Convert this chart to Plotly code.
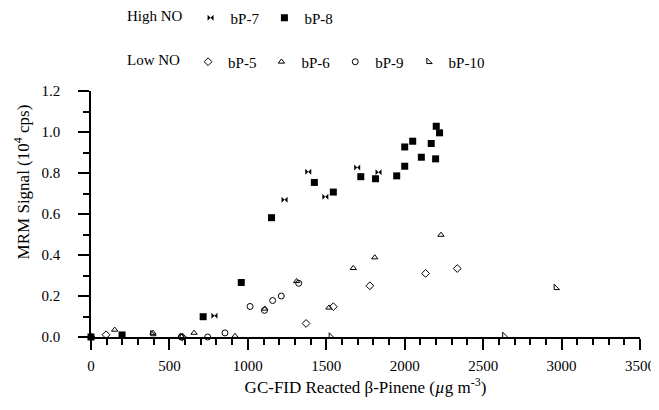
import plotly.graph_objects as go

# ---- data ----
bp7_x = [0, 787, 1234, 1385, 1494, 1697, 1833]
bp7_y = [0, 0.104, 0.670, 0.806, 0.684, 0.827, 0.804]

bp8_x = [0, 198, 715, 958, 1151, 1424, 1545, 1720, 1814, 1949, 2000, 2000, 2051, 2106, 2169, 2197, 2201, 2222]
bp8_y = [0, 0.010, 0.099, 0.266, 0.582, 0.754, 0.707, 0.782, 0.772, 0.786, 0.833, 0.927, 0.955, 0.877, 0.944, 0.869, 1.028, 0.996]

bp5_x = [0, 96, 582, 1371, 1545, 1778, 2133, 2335]
bp5_y = [0, 0.011, 0.0, 0.066, 0.148, 0.250, 0.310, 0.334]

bp6_x = [0, 151, 395, 657, 918, 1108, 1311, 1517, 1672, 1809, 2231]
bp6_y = [0, 0.035, 0.020, 0.020, 0.005, 0.138, 0.272, 0.143, 0.336, 0.388, 0.498]

bp9_x = [0, 575, 744, 854, 1014, 1106, 1158, 1213, 1324]
bp9_y = [0, 0.0, 0.0, 0.020, 0.149, 0.130, 0.178, 0.200, 0.262]

bp10_x = [392, 580, 1530, 2636, 2964]
bp10_y = [0.015, 0.0, 0.003, 0.006, 0.240]

FONT = "Liberation Serif"

fig = go.Figure()

def add(x, y, name, symbol, size, legend, filled=False):
    fig.add_trace(go.Scatter(
        x=x, y=y, mode="markers", name=name, legend=legend, cliponaxis=False,
        marker=dict(symbol=symbol, size=size, color="black",
                    line=dict(color="black", width=0 if filled else 1)),
    ))

add(bp7_x, bp7_y, "bP-7", "bowtie", 6, "legend", filled=True)
add(bp8_x, bp8_y, "bP-8", "square", 7, "legend", filled=True)
add(bp5_x, bp5_y, "bP-5", "diamond-open", 6, "legend2")
add(bp6_x, bp6_y, "bP-6", "triangle-up-open", 5.5, "legend2")
add(bp9_x, bp9_y, "bP-9", "circle-open", 6, "legend2")
add(bp10_x, bp10_y, "bP-10", "triangle-sw-open", 6, "legend2")

axis_common = dict(
    showgrid=False, zeroline=False, showline=True, linecolor="black", linewidth=1.5,
    ticks="outside", ticklen=11, tickwidth=1.5, tickcolor="black",
    tickfont=dict(family=FONT, size=15, color="black"),
    automargin=False,
)

fig.update_xaxes(
    range=[0, 3500], dtick=500, tick0=0,
    minor=dict(dtick=100, ticks="outside", ticklen=6, tickwidth=1.5, tickcolor="black"),
    title=dict(text="GC-FID Reacted β-Pinene (<i>µ</i>g m<sup>-3</sup>)",
               font=dict(family=FONT, size=17, color="black"), standoff=8),
    ticklabelstandoff=3,
    **axis_common,
)
fig.update_yaxes(
    range=[0, 1.2], dtick=0.2, tick0=0, tickformat=".1f",
    minor=dict(dtick=0.1, ticks="outside", ticklen=6, tickwidth=1.5, tickcolor="black"),
    ticklabelstandoff=15,
    **axis_common,
)

fig.add_annotation(
    text="MRM Signal (10<sup>4</sup> cps)", textangle=-90,
    xref="paper", yref="paper", x=-0.125, y=0.63, xanchor="center", yanchor="middle",
    showarrow=False, font=dict(family=FONT, size=17, color="black"),
)

# page body has an 8px offset, so the figure is 651x402 to fill the 659x410 window
W, H, OFF = 651, 402, 8

legend_common = dict(
    orientation="h", xanchor="left", yanchor="middle",
    xref="container", yref="container",
    font=dict(family=FONT, size=15, color="black"),
    bgcolor="rgba(0,0,0,0)", itemsizing="trace",
)
fig.update_layout(
    width=W, height=H,
    margin=dict(l=91 - OFF, r=19, t=91 - OFF, b=73, autoexpand=False),
    paper_bgcolor="white", plot_bgcolor="white",
    font=dict(family=FONT, color="black"),
    showlegend=True,
    legend=dict(x=(125 - OFF) / W, y=1 - (18 - OFF) / H,
                title=dict(text="High NO", side="left", font=dict(family=FONT, size=15, color="black")),
                **legend_common),
    legend2=dict(x=(125 - OFF) / W, y=1 - (62 - OFF) / H,
                 title=dict(text="Low NO", side="left", font=dict(family=FONT, size=15, color="black")),
                 **legend_common),
)

fig.write_html("out.html")
